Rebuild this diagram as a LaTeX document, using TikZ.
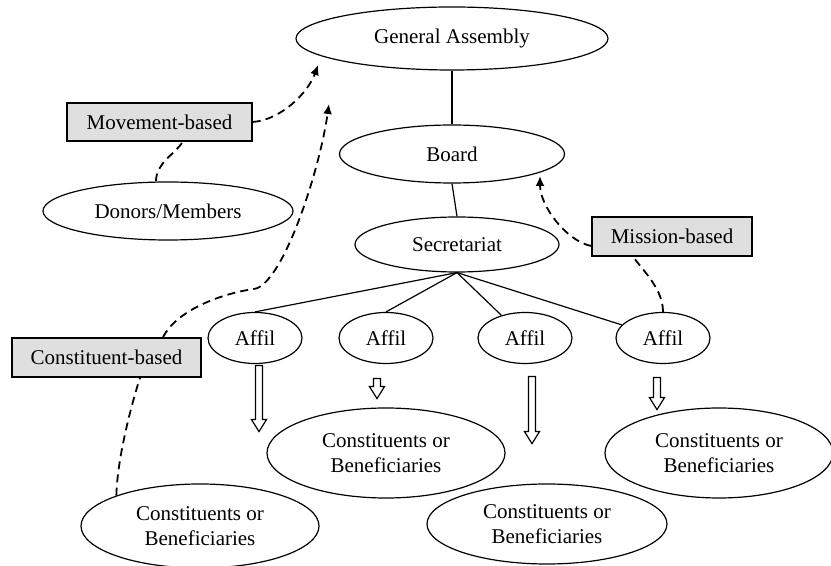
\documentclass[tikz,border=0pt]{standalone}
\usepackage{fontspec}
\setmainfont{Liberation Serif}
\usepackage{tikz}
\usetikzlibrary{arrows.meta, shapes.geometric, calc}

\newcommand{\hollowarrow}[2]{%
	\draw[line width=0.6pt] (#1) ++(-3.5,0) -- ++(0,{#2-12}) -- ++(-4,0) -- ++(7.5,12)
		-- ++(7.5,-12) -- ++(-4,0) -- ++(0,{12-#2}) -- cycle;}

\begin{document}
\begin{tikzpicture}[x=0.5pt, y=-0.5pt, >={Latex[length=5pt,width=4.5pt]},
		font=\fontsize{10.5}{12.5}\selectfont,
		blob/.style={ellipse, draw, line width=0.6pt, inner sep=0pt, align=center},
		tag/.style={rectangle, draw, fill=gray!25, line width=0.7pt, inner sep=0pt},
		dashcurve/.style={line width=0.9pt, dash pattern=on 4pt off 2.6pt}]
	\useasboundingbox (0,0) rectangle (831,566);

	\node[blob, minimum width=156pt, minimum height=31.5pt] (ga) at (452,38.5) {General Assembly};
	\node[blob, minimum width=112.5pt, minimum height=29pt] (board) at (452,154) {Board};
	\node[blob, minimum width=102pt, minimum height=27.5pt] (secr) at (457,244.5) {Secretariat};
	\node[blob, minimum width=125pt, minimum height=29pt] (donors) at (168,211) {Donors/Members};

	\node[blob, minimum width=47pt, minimum height=25.5pt] (affil_1) at (255,338) {Affil};
	\node[blob, minimum width=47pt, minimum height=25.5pt] (affil_2) at (386,338) {Affil};
	\node[blob, minimum width=47pt, minimum height=25.5pt] (affil_3) at (525,338) {Affil};
	\node[blob, minimum width=47pt, minimum height=25.5pt] (affil_4) at (663,338) {Affil};

	\node[blob, minimum width=119pt, minimum height=42pt] (cons_1) at (200,526) {Constituents or\\Beneficiaries};
	\node[blob, minimum width=119pt, minimum height=45pt] (cons_2) at (386,453) {Constituents or\\Beneficiaries};
	\node[blob, minimum width=120pt, minimum height=40pt] (cons_3) at (547,524) {Constituents or\\Beneficiaries};
	\node[blob, minimum width=114pt, minimum height=45pt] (cons_4) at (719,453) {Constituents or\\Beneficiaries};

	\node[tag, minimum width=92.5pt, minimum height=19pt] (movement) at (159.5,122) {Movement-based};
	\node[tag, minimum width=94.5pt, minimum height=19.5pt] (constituent) at (106.5,357.5) {Constituent-based};
	\node[tag, minimum width=80pt, minimum height=19.5pt] (mission) at (672,236.5) {Mission-based};

	\coordinate (tip_move) at (318,65);
	\coordinate (tip_cons) at (329,104);
	\coordinate (tip_miss) at (540,176);
	\coordinate (cons_bend) at (254,289);

	\draw[line width=0.6pt] (ga.south) -- (board.north);
	\draw[line width=0.6pt] (board.south) -- (secr.north);
	\draw[line width=0.6pt] (secr.south) -- (affil_1.north);
	\draw[line width=0.6pt] (secr.south) -- (affil_2.north);
	\draw[line width=0.6pt] (secr.south) -- (affil_3);
	\draw[line width=0.6pt] (secr.south) -- (affil_4);

	\hollowarrow{$(affil_1.south)+(4,1.5)$}{66}
	\hollowarrow{$(affil_2.south)+(-9,14.5)$}{20}
	\hollowarrow{$(affil_3.south)+(7,12.5)$}{67}
	\hollowarrow{$(affil_4.south)+(-6,13.5)$}{32}

	\draw[dashcurve] ($(donors.north)+(-12,0)$) .. controls +(0,-18) and +(-10,14) .. ($(movement.south)+(23.5,0)$);
	\draw[dashcurve, ->] (movement.east) .. controls +(28,-2) and +(-10,28) .. (tip_move);

	\draw[dashcurve] (cons_1.160) .. controls +(1,-40) and +(-7,22) .. ($(constituent.south)+(33.5,0)$);
	\draw[dashcurve, ->] ($(constituent.north)+(56.5,0)$) .. controls +(14,-28) and +(-30,4) .. (cons_bend)
		.. controls +(28,-4) and +(-10,70) .. (tip_cons);

	\draw[dashcurve] (affil_4.north) .. controls +(0,-22) and +(12,16) .. ($(mission.south)+(-39,0)$);
	\draw[dashcurve, ->] ($(mission.west)+(0,9.5)$) .. controls +(-25,-5) and +(0,30) .. (tip_miss);
\end{tikzpicture}
\end{document}
